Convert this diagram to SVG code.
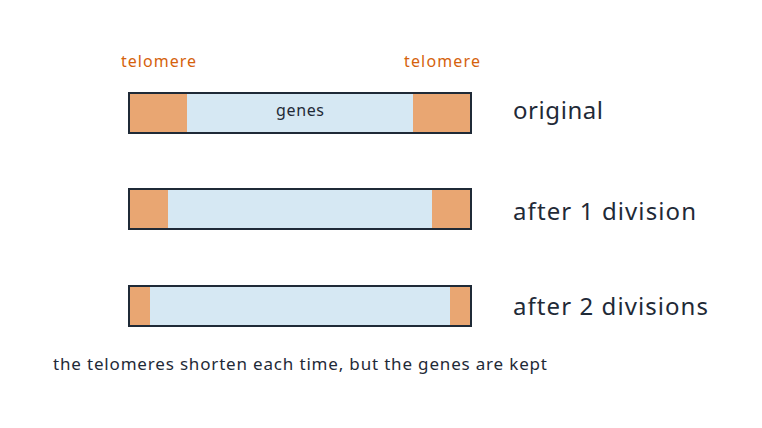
<svg xmlns="http://www.w3.org/2000/svg" width="762" height="428" viewBox="0 0 762 428">
<style>
.bar{fill:#d6e8f3}
.end{fill:#e9a672}
.out{fill:none;stroke:#1f2a37;stroke-width:2}
text{font-family:"Noto Sans","Open Sans",sans-serif;fill:#1f2a37}
.lbl{font-size:24px}
.tel{font-size:16px;fill:#d5620c}
</style>
<rect width="762" height="428" fill="#fff"/>
<g id="original">
<rect class="bar" x="129" y="93" width="342" height="40"/>
<rect class="end" x="129" y="93" width="58" height="40"/>
<rect class="end" x="413" y="93" width="58" height="40"/>
<rect class="out" x="129" y="93" width="342" height="40"/>
<text x="276" y="116" font-size="16" textLength="48">genes</text>
<text class="tel" x="121" y="67" textLength="75">telomere</text>
<text class="tel" x="404" y="67" textLength="76">telomere</text>
<text class="lbl" x="513" y="119" textLength="90">original</text>
</g>
<g id="after1">
<rect class="bar" x="129" y="189" width="342" height="40"/>
<rect class="end" x="129" y="189" width="39" height="40"/>
<rect class="end" x="432" y="189" width="39" height="40"/>
<rect class="out" x="129" y="189" width="342" height="40"/>
<text class="lbl" x="513" y="220" textLength="183">after 1 division</text>
</g>
<g id="after2">
<rect class="bar" x="129" y="286" width="342" height="40"/>
<rect class="end" x="129" y="286" width="21" height="40"/>
<rect class="end" x="450" y="286" width="21" height="40"/>
<rect class="out" x="129" y="286" width="342" height="40"/>
<text class="lbl" x="513" y="315" textLength="195">after 2 divisions</text>
</g>
<g id="connectors"/>
<text x="53" y="370" font-size="17" textLength="494">the telomeres shorten each time, but the genes are kept</text>
</svg>
